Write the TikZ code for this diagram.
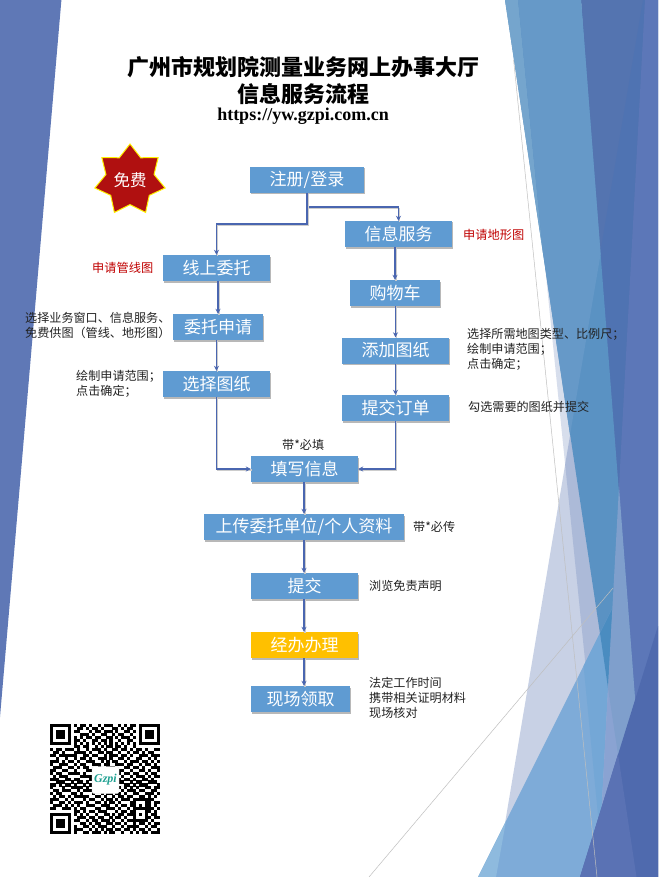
\documentclass[tikz,border=0pt]{standalone}
\usepackage{fontspec}
\setmainfont{Noto Sans CJK SC}
\newfontfamily\latinf{Liberation Serif}
\usetikzlibrary{arrows.meta,shadows,shapes.geometric}
\definecolor{boxblue}{HTML}{5F9BD2}
\definecolor{boxgold}{HTML}{FFC000}
\definecolor{linkblue}{HTML}{4A66B0}
\definecolor{facetleft}{HTML}{5F78B6}
\definecolor{facetbase}{HTML}{4B69AC}
\definecolor{redtxt}{HTML}{C00000}
\definecolor{startxt}{HTML}{B01010}
\definecolor{darktxt}{HTML}{222222}
\definecolor{fa}{RGB}{84,116,176}
\definecolor{fb}{RGB}{79,115,178}
\definecolor{fc}{RGB}{92,119,184}
\definecolor{ga}{RGB}{117,165,205}
\definecolor{gb}{RGB}{102,153,200}
\definecolor{gc}{RGB}{90,146,195}
\definecolor{ha}{RGB}{126,171,216}
\definecolor{hb}{RGB}{142,186,222}
\definecolor{hc}{RGB}{116,167,214}
\definecolor{hd}{RGB}{74,140,192}
\definecolor{wa}{RGB}{127,159,204}
\definecolor{wb}{RGB}{138,163,210}
\definecolor{da}{RGB}{79,106,174}
\definecolor{db}{RGB}{90,114,180}
\definecolor{logoteal}{RGB}{30,160,145}
\newcount\qrx
\newcount\qry
\def\qrrow#1{\qrx=0 \qrscan#1\relax\advance\qry by 1 }
\def\qrscan#1{\ifx#1\relax\else\if#11\fill[black] ({50+2.973*\the\qrx},{724+2.973*\the\qry}) rectangle ++(3.05,3.05);\fi\advance\qrx by 1 \expandafter\qrscan\fi}
\tikzset{
  box/.style={rectangle,fill=boxblue,text=white,inner sep=0pt,minimum height=26,font=\fontsize{17}{19}\selectfont,
    drop shadow={shadow xshift=0.6pt,shadow yshift=-1.5pt,opacity=0.28,fill=black}},
  goldbox/.style={box,fill=boxgold},
  note/.style={anchor=west,inner sep=0pt,align=left,text=darktxt,font=\fontsize{12.1}{15}\selectfont},
  rednote/.style={anchor=west,inner sep=0pt,text=redtxt,font=\fontsize{12.2}{14}\selectfont},
  link/.style={draw=linkblue,line width=1.6pt,-{Stealth[length=5pt,width=5pt]},
    preaction={draw=black!20,-,line width=1.2pt,transform canvas={xshift=1pt,yshift=-1pt}}},
  greyline/.style={draw=black!25,line width=0.5pt}
}
\begin{document}
\begin{tikzpicture}[x=1pt,y=-1pt]
\useasboundingbox (0,0) rectangle (658,877);
\fill[white] (0,0) rectangle (658,877);
% left facet
\fill[facetleft] (0,0) -- (61.4,0) -- (0,717) -- cycle;
% translucent lavender facets
\fill[facetbase,opacity=0.3] (643,0) -- (658,0) -- (658,877) -- (496,877) -- cycle;
\fill[facetbase,opacity=0.22] (518,0) -- (610,0) -- (610,877) -- (607,877) -- cycle;
% right dark facets
\fill[fa] (581,0) -- (658,0) -- (658,877) -- (640,877) -- cycle;
\fill[fb] (643,0) -- (645,0) -- (619,487) -- (600,254) -- cycle;
\fill[fc] (645,0) -- (658,0) -- (658,877) -- (640,877) -- (619,487) -- cycle;
% main blue facet
\fill[gc] (505,0) -- (581,0) -- (648.6,877) -- (636.5,877) -- cycle;
\fill[ga] (505,0) -- (518,0) -- (543,253) -- cycle;
\fill[gb] (518,0) -- (581,0) -- (600.6,254) -- (570,435) -- (543,253) -- cycle;
% lower light blue facet
\fill[ha] (478,877) -- (612.5,608) -- (608,688) -- (598,877) -- cycle;
\fill[hb] (478,877) -- (506,821) -- (496,877) -- cycle;
\fill[hc] (583.6,666) -- (600,633) -- (608,688) -- (600,836) -- cycle;
\fill[hd] (600,633) -- (612.5,608) -- (608,688) -- cycle;
% narrow wedge
\fill[wb] (608,688) -- (640,877) -- (598,877) -- cycle;
\fill[wa] (619,487) -- (648.6,877) -- (636.5,877) -- (608,688) -- cycle;
% bottom right dark facet
\fill[da] (580,877) -- (658,626) -- (658,877) -- cycle;
\fill[db] (580,877) -- (618,754) -- (636.5,877) -- cycle;
% thin lines
\draw[greyline] (513.6,60) -- (597,877);
\draw[greyline] (369,877) -- (613,588);
% title
\node[inner sep=0pt,font=\fontsize{22}{24}\selectfont\bfseries] (title1) at (303,67) {广州市规划院测量业务网上办事大厅};
\node[inner sep=0pt,font=\fontsize{22}{24}\selectfont\bfseries] (title2) at (303.5,94) {信息服务流程};
\node[inner sep=0pt,font=\latinf\fontsize{18}{20}\selectfont\bfseries] (url) at (303,116) {https://yw.gzpi.com.cn};
% star
\node[star,star points=7,star point ratio=1.46,minimum size=72,inner sep=0pt,fill=startxt,draw=yellow,line width=1pt,text=white,font=\fontsize{16.5}{18}\selectfont] (free) at (130,180) {免费};
% boxes
\node[box,minimum width=114] (reg) at (307,180) {注册/登录};
\node[box,minimum width=107] (info) at (398.5,234) {信息服务};
\node[box,minimum width=90] (cart) at (395,293) {购物车};
\node[box,minimum width=107] (add) at (395.5,350.5) {添加图纸};
\node[box,minimum width=107] (order) at (395.5,408) {提交订单};
\node[box,minimum width=107] (online) at (216.5,268) {线上委托};
\node[box,minimum width=90] (apply) at (218,327) {委托申请};
\node[box,minimum width=107] (select) at (216.5,384) {选择图纸};
\node[box,minimum width=107] (form) at (304.5,469) {填写信息};
\node[box,minimum width=200] (upload) at (304,527) {上传委托单位/个人资料};
\node[box,minimum width=107] (submit) at (304.5,586) {提交};
\node[goldbox,minimum width=107] (handle) at (304.5,645) {经办办理};
\node[box,minimum width=99] (pick) at (300.5,699) {现场领取};
% connectors
\draw[link] (reg.south) -- ++(0,14) -| (info.north);
\draw[link] (reg.south) -- ++(0,31) -| (online.north);
\draw[link] (cart.north |- info.south) -- (cart.north);
\draw[link] (add.north |- cart.south) -- (add.north);
\draw[link] (add.south) -- (order.north);
\draw[link] (order.south) |- (form.east);
\draw[link] (apply.north |- online.south) -- (apply.north);
\draw[link] (select.north |- apply.south) -- (select.north);
\draw[link] (select.south) |- (form.west);
\draw[link] (upload.north |- form.south) -- (upload.north);
\draw[link] (upload.south) -- (upload.south |- submit.north);
\draw[link] (upload.south |- submit.south) -- (upload.south |- handle.north);
\draw[link] (upload.south |- handle.south) -- (upload.south |- pick.north);
% notes
\node[rednote] (n1) at (92,268) {申请管线图};
\node[rednote] (n2) at (463,235) {申请地形图};
\node[note] (n3) at (25,325.5) {选择业务窗口、信息服务、\\免费供图（管线、地形图）};
\node[note] (n4) at (76,384) {绘制申请范围；\\点击确定；};
\node[note] (n5) at (467,349) {选择所需地图类型、比例尺；\\绘制申请范围；\\点击确定；};
\node[note] (n6) at (468,407) {勾选需要的图纸并提交};
\node[note] (n7) at (282,445) {带*必填};
\node[note] (n8) at (413,527) {带*必传};
\node[note] (n9) at (369,586) {浏览免责声明};
\node[note] (n10) at (369,698) {法定工作时间\\携带相关证明材料\\现场核对};
% QR code
\qry=0
\qrrow{1111111010110100101110010101101111111}
\qrrow{1000001001101011010001101011001000001}
\qrrow{1011101011000101101110100110101011101}
\qrrow{1011101000111010011001011001001011101}
\qrrow{1011101010101101100110101110101011101}
\qrrow{1000001011010011011010010011001000001}
\qrrow{1111111010101010101010101010101111111}
\qrrow{0000000011011001010110110100100000000}
\qrrow{1011011101001011101001101101011010011}
\qrrow{0110100011110100110110010010110101100}
\qrrow{1101111110011011001011101101001110111}
\qrrow{0010010010110100111010011010011001010}
\qrrow{1110101101001110010101100101110110101}
\qrrow{1001110010110011101100111011001011010}
\qrrow{0111001101011000100111000110110100111}
\qrrow{1100110010001111011000111001001101001}
\qrrow{1011001111010010110111010110110010110}
\qrrow{0101110000111101001010101001011101011}
\qrrow{1110011011000110110101110110100110100}
\qrrow{0011100101101001011000111001011001110}
\qrrow{1101011010010111001111000110101110001}
\qrrow{1000100111101000110010110101010011011}
\qrrow{0110111001011101101101001011101100110}
\qrrow{1011000110100010010110110100110011101}
\qrrow{0101101011111001101001011011001101010}
\qrrow{1110010100010110010110101110111111100}
\qrrow{1001101011101001101011010001100011011}
\qrrow{0111010101001110011100101101101011010}
\qrrow{1100111010110001100111010010111111101}
\qrrow{0000000011010110111000101101100011010}
\qrrow{1111111010101001001101011011101010110}
\qrrow{1000001001110110110010110100100011011}
\qrrow{1011101011001011011101001011111110100}
\qrrow{1011101000110101100110110100101101011}
\qrrow{1011101010011010111001001011110010110}
\qrrow{1000001011100101010110110110101101001}
\qrrow{1111111010011011101011001001010110111}
% logo
\node[rectangle,rounded corners=2pt,fill=white,draw=black!12,line width=0.4pt,minimum width=27,minimum height=27,inner sep=0pt,text=logoteal,font=\latinf\fontsize{12}{13}\selectfont\bfseries\itshape] (logo) at (105.5,780) {Gzpi};
\end{tikzpicture}
\end{document}
